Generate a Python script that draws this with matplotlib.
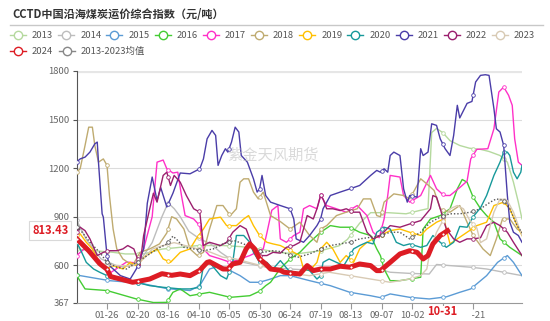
import numpy as np
import matplotlib
matplotlib.use('Agg')
import matplotlib.pyplot as plt
from matplotlib.lines import Line2D
from matplotlib.patches import Rectangle
import matplotlib.transforms as mtransforms

plt.rcParams['font.family'] = ['Noto Sans CJK SC', 'DejaVu Sans']

# day of year (0 = 01-01) and index value
days_2013 = [0, 15, 30, 40, 55, 70, 85, 100, 120, 135, 150, 165, 180, 200, 215, 222, 232, 241, 255, 270,
             282, 288, 291, 295, 300, 306, 314, 322, 331, 338, 347, 353, 358, 362, 365]
vals_2013 = [700, 690, 680, 670, 670, 700, 711, 722, 722, 715, 700, 680, 670, 690, 720, 760, 860, 925, 925, 918,
             940, 950, 1420, 1445, 1420, 1370, 1340, 1323, 1316, 1303, 1278, 1237, 1113, 990, 886]

days_2014 = [0, 8, 20, 35, 48, 55, 62, 70, 75, 80, 85, 92, 101, 110, 118, 126, 137, 149, 159, 175,
             191, 208, 224, 241, 257, 273, 289, 295, 306, 323, 336, 350, 365]
vals_2014 = [880, 760, 640, 590, 600, 660, 740, 900, 985, 950, 900, 810, 763, 732, 680, 639, 618, 598, 585, 577,
             570, 577, 598, 590, 557, 550, 546, 605, 598, 588, 577, 557, 536]

days_2015 = [0, 27, 52, 74, 93, 101, 109, 118, 126, 134, 142, 150, 159, 167, 175, 191, 208, 224, 241, 249,
             257, 273, 289, 303, 314, 323, 336, 345, 353, 358, 365]
vals_2015 = [540, 505, 490, 456, 444, 474, 577, 598, 567, 536, 495, 495, 515, 536, 536, 505, 474, 433, 412, 400,
             423, 402, 392, 405, 433, 454, 536, 618, 660, 618, 536]

days_2016 = [0, 7, 25, 49, 63, 74, 79, 85, 93, 109, 126, 142, 150, 155, 159, 167, 175, 183, 191, 200,
             208, 216, 224, 232, 241, 246, 249, 252, 257, 265, 273, 282, 284, 290, 298, 306, 312, 316, 320, 325,
             331, 336, 342, 347, 355, 365]
vals_2016 = [538, 454, 444, 392, 370, 371, 433, 454, 412, 433, 402, 412, 440, 474, 495, 580, 639, 680, 742, 804,
             845, 835, 835, 804, 784, 701, 660, 577, 505, 505, 515, 526, 824, 886, 907, 949, 1072, 1130, 1113, 1020,
             950, 907, 866, 763, 711, 660]

days_2017 = [0, 7, 19, 27, 41, 49, 55, 62, 66, 71, 74, 79, 83, 86, 89, 96, 101, 104, 109, 118,
             126, 134, 142, 153, 156, 160, 165, 167, 172, 178, 183, 186, 191, 197, 200, 205, 213, 221, 230, 238,
             243, 248, 252, 255, 257, 265, 268, 273, 282, 290, 295, 301, 306, 314, 320, 323, 328, 337, 342, 346,
             350, 354, 357, 359, 362, 365]
vals_2017 = [660, 705, 630, 550, 620, 615, 701, 900, 1237, 1250, 1196, 1170, 1175, 1031, 907, 886, 845, 701, 660, 639,
             618, 639, 660, 701, 800, 940, 969, 763, 742, 784, 804, 949, 969, 949, 1031, 969, 949, 928, 969, 907,
             804, 770, 886, 1031, 1155, 1145, 1031, 990, 1031, 1155, 1072, 1031, 1031, 1080, 1120, 1257, 1316, 1320, 1443, 1670,
             1701, 1650, 1588, 1381, 1237, 1217]

days_2018 = [0, 3, 7, 10, 13, 15, 18, 22, 25, 27, 30, 33, 38, 46, 52, 60, 68, 74, 78, 82,
             88, 93, 99, 104, 109, 115, 120, 126, 131, 134, 137, 141, 145, 149, 153, 159, 167, 175, 183, 191,
             197, 200, 205, 213, 221, 230, 235, 241, 246, 249, 252, 260, 268, 273, 282, 287, 293, 298, 306, 314,
             320, 325, 333, 339, 344, 349, 355, 361, 365]
vals_2018 = [1175, 1196, 1340, 1453, 1453, 1340, 1237, 1257, 1217, 1031, 824, 701, 639, 598, 680, 701, 732, 800, 900, 886,
             824, 701, 660, 680, 824, 969, 969, 907, 949, 1113, 1134, 1134, 1052, 1010, 1052, 907, 870, 824, 866, 784,
             742, 824, 845, 907, 928, 949, 1010, 1010, 907, 900, 990, 1041, 1031, 1010, 1134, 1103, 1062, 949, 928, 969,
             866, 784, 701, 660, 763, 886, 886, 824, 804]

days_2019 = [0, 3, 8, 13, 19, 25, 30, 38, 44, 49, 57, 66, 71, 77, 85, 93, 98, 104, 109, 118,
             123, 131, 137, 141, 145, 150, 156, 161, 167, 178, 183, 186, 191, 197, 200, 205, 210, 216, 221, 227,
             232, 238, 243, 249, 257, 265, 273, 282, 287, 295, 301, 306, 312, 320, 328, 336, 342, 350, 355, 361, 365]
vals_2019 = [785, 794, 742, 701, 618, 577, 598, 577, 618, 598, 660, 701, 639, 618, 680, 701, 763, 824, 886, 897,
             845, 845, 886, 907, 845, 784, 742, 732, 722, 680, 660, 577, 567, 618, 701, 742, 701, 618, 660, 618,
             701, 742, 763, 784, 814, 824, 804, 784, 824, 866, 886, 732, 763, 804, 845, 866, 969, 990, 949, 845, 784]

days_2020 = [0, 3, 8, 14, 19, 25, 33, 41, 49, 60, 71, 85, 93, 101, 104, 109, 118, 123, 128, 131,
             137, 142, 145, 150, 156, 161, 167, 175, 180, 186, 191, 197, 200, 202, 207, 213, 219, 224, 227, 232,
             238, 243, 246, 252, 257, 262, 268, 273, 282, 287, 292, 298, 303, 309, 314, 320, 325, 331, 336, 342,
             347, 350, 353, 355, 358, 361, 364, 365]
vals_2020 = [742, 701, 618, 577, 557, 536, 526, 515, 495, 474, 464, 454, 454, 464, 598, 618, 536, 515, 618, 784,
             784, 742, 680, 618, 618, 577, 629, 557, 536, 577, 567, 515, 536, 618, 639, 618, 598, 660, 701, 722,
             742, 732, 804, 835, 824, 742, 722, 732, 711, 722, 784, 742, 711, 742, 840, 835, 900, 955, 1031, 1155,
             1237, 1299, 1299, 1278, 1175, 1134, 1175, 1217]

days_2021 = [0, 3, 7, 11, 15, 17, 18, 21, 22, 25, 27, 36, 44, 49, 55, 58, 62, 66, 69, 74,
             79, 85, 93, 101, 104, 107, 111, 114, 116, 119, 122, 124, 127, 130, 133, 135, 140, 145, 148, 150,
             152, 155, 159, 167, 175, 178, 180, 186, 191, 197, 200, 202, 208, 216, 224, 232, 241, 246, 249, 252,
             255, 257, 260, 265, 268, 271, 273, 279, 282, 284, 288, 291, 295, 298, 302, 306, 309, 312, 314, 320,
             324, 327, 331, 335, 338, 340, 342, 344, 347, 350, 353, 355, 358, 362, 365]
vals_2021 = [1237, 1257, 1268, 1299, 1350, 1361, 1237, 918, 897, 660, 598, 536, 515, 577, 701, 983, 1145, 1000, 1080, 960,
             1045, 1170, 1165, 1196, 1257, 1381, 1433, 1402, 1217, 1278, 1320, 1299, 1361, 1453, 1423, 1278, 1237, 1134, 1052, 1072,
             1155, 1031, 990, 969, 949, 886, 763, 742, 784, 845, 886, 949, 1031, 1052, 1072, 1093, 1155, 1186, 1175, 1196,
             1175, 1278, 1299, 1278, 1072, 990, 1031, 1021, 1320, 1278, 1299, 1474, 1464, 1381, 1320, 1278, 1402, 1588, 1510, 1600,
             1612, 1732, 1773, 1777, 1773, 1670, 1567, 1443, 1423, 1340, 1031, 866, 804, 784, 742]

days_2022 = [0, 3, 7, 11, 17, 22, 27, 33, 38, 42, 47, 49, 52, 55, 60, 63, 66, 71, 74, 77,
             80, 85, 90, 96, 101, 104, 109, 118, 123, 128, 134, 139, 145, 150, 156, 161, 167, 172, 178, 183,
             186, 189, 194, 197, 200, 202, 205, 210, 216, 221, 227, 232, 238, 243, 249, 257, 265, 273, 282, 290,
             292, 295, 298, 303, 309, 314, 320, 325, 331, 336, 342, 347, 353, 358, 365]
vals_2022 = [804, 835, 814, 763, 660, 680, 690, 690, 701, 722, 701, 660, 598, 784, 949, 1045, 990, 1155, 1175, 1093,
             1155, 1113, 1031, 949, 928, 722, 742, 722, 742, 804, 845, 824, 701, 660, 660, 680, 675, 711, 722, 742,
             824, 907, 886, 949, 1031, 1010, 949, 949, 938, 949, 928, 928, 804, 763, 784, 845, 835, 855, 876, 949,
             1031, 1021, 949, 824, 763, 742, 763, 763, 770, 845, 866, 845, 804, 742, 660]

days_2023 = [0, 10, 20, 30, 45, 55, 62, 70, 80, 90, 100, 110, 120, 130, 140, 150, 160, 170, 180, 191,
             207, 224, 241, 257, 273, 282, 287, 290, 295, 301, 306, 312, 317, 322, 328, 331, 336, 342, 347, 353,
             358, 365]
vals_2023 = [770, 700, 610, 600, 595, 640, 700, 720, 740, 720, 700, 680, 650, 640, 620, 600, 580, 560, 545, 536,
             557, 536, 515, 495, 515, 536, 577, 701, 804, 886, 949, 969, 949, 880, 830, 740, 763, 928, 1010, 1000,
             928, 784]

days_2024 = [0, 10, 19, 25, 28, 36, 46, 50, 60, 70, 78, 85, 93, 101, 107, 109, 115, 120, 124, 128,
             134, 139, 142, 146, 150, 155, 159, 167, 170, 183, 189, 194, 200, 208, 216, 224, 232, 241, 246, 249,
             257, 265, 273, 279, 284, 288, 292, 298, 304]
vals_2024 = [765, 690, 610, 575, 530, 515, 495, 500, 515, 548, 538, 546, 536, 569, 618, 622, 598, 577, 577, 608,
             618, 701, 732, 701, 639, 608, 577, 569, 557, 546, 598, 567, 577, 577, 594, 588, 608, 598, 567, 567,
             618, 670, 690, 680, 639, 660, 732, 784, 813.43]

days_avg = [0, 4, 11, 19, 25, 33, 41, 49, 58, 66, 74, 79, 82, 88, 96, 104, 112, 120, 129, 137,
            145, 153, 161, 167, 175, 181, 191, 200, 208, 216, 224, 232, 241, 249, 257, 265, 273, 282, 290, 298,
            306, 314, 323, 331, 339, 344, 350, 355, 361, 365]
vals_avg = [835, 810, 742, 680, 618, 588, 577, 618, 660, 701, 732, 780, 760, 711, 701, 690, 701, 732, 753, 732,
            701, 680, 690, 685, 663, 649, 670, 701, 722, 732, 742, 763, 773, 784, 804, 804, 763, 804, 866, 897,
            918, 918, 928, 949, 990, 1010, 1000, 949, 845, 800]

years = ['2013', '2014', '2015', '2016', '2017', '2018', '2019', '2020', '2021', '2022', '2023', '2024']
colors = ['#b5d99e', '#bdbdbd', '#5b9bd5', '#44cc33', '#ff30c8', '#bfab70', '#ffc000',
          '#17999a', '#4a3da8', '#9b1f6e', '#d8cab4', '#dd1c24']
avg_label = '2013-2023均值'

xtick_days = [25, 50, 75, 100, 125, 150, 175, 200, 225, 250, 275, 300, 325]
xtick_labels = ['01-26', '02-20', '03-16', '04-10', '05-05', '05-30', '06-24', '07-19',
                '08-13', '09-07', '10-02', '', '11-21']
yticks = [367, 600, 900, 1200, 1500, 1800]
cursor_day = 303
cursor_label = '10-31'
cursor_value = 813.43
marker_days = list(range(0, 351, 25))

series = {
    '2013': (days_2013, vals_2013), '2014': (days_2014, vals_2014), '2015': (days_2015, vals_2015),
    '2016': (days_2016, vals_2016), '2017': (days_2017, vals_2017), '2018': (days_2018, vals_2018),
    '2019': (days_2019, vals_2019), '2020': (days_2020, vals_2020), '2021': (days_2021, vals_2021),
    '2022': (days_2022, vals_2022), '2023': (days_2023, vals_2023), '2024': (days_2024, vals_2024),
}

W, H = 550, 321
fig = plt.figure(figsize=(W / 100, H / 100), dpi=100)
fig.patch.set_facecolor('white')

ax = fig.add_axes([76.5 / W, 1 - 303 / H, (522 - 76.5) / W, (303 - 71) / H])
ax.set_xlim(0, 365)
ax.set_ylim(367, 1800)

# grid
for v in yticks[1:-1]:
    ax.axhline(v, color='#dcdcdc', lw=0.8, zorder=0)
ax.axhline(1800, color='#e6e6e6', lw=3, zorder=0)


def draw(days, vals, color, lw, zorder, ls='-', msize=2.6):
    ax.plot(days, vals, color=color, lw=lw, ls=ls, zorder=zorder, solid_joinstyle='round')
    md = [d for d in marker_days if d <= days[-1]]
    ax.plot(md, np.interp(md, days, vals), ls='none', marker='o', ms=msize,
            mfc='white', mec=color, mew=0.6, zorder=zorder + 0.1)


for i, y in enumerate(years[:-1]):
    d, v = series[y]
    draw(d, v, colors[i], 1.0, 2 + i * 0.2)
draw(days_avg, vals_avg, '#555555', 1.0, 5, ls=(0, (1, 1.4)))
draw(days_2024, vals_2024, colors[-1], 3.6, 6, msize=2.2)

# axes styling
for s in ['top', 'right']:
    ax.spines[s].set_visible(False)
ax.spines['left'].set_color('#555555')
ax.spines['bottom'].set_color('#999999')
ax.set_yticks(yticks)
ax.set_yticklabels([str(t) for t in yticks])
ax.set_xticks(xtick_days)
ax.set_xticklabels(xtick_labels)
ax.tick_params(axis='y', direction='out', length=3, width=0.8, color='#555555',
               labelsize=6.8, labelcolor='#666666', pad=2)
ax.tick_params(axis='x', direction='out', length=4, width=0.8, color='#999999',
               labelsize=6.8, labelcolor='#666666', pad=2)

# cursor labels
tr_y = mtransforms.blended_transform_factory(ax.transAxes, ax.transData)
ax.text(-0.018, cursor_value, f'{cursor_value:.2f}', transform=tr_y, ha='right', va='center',
        fontsize=8, fontweight='bold', color='#dd1c24', zorder=10, clip_on=False,
        bbox=dict(boxstyle='square,pad=0.25', fc='white', ec='#d9d9d9', lw=0.8))
# white label box on the x axis, hiding the neighbouring tick text
fig.add_artist(Rectangle((428 / W, 1 - 318 / H), 44 / W, 12 / H, transform=fig.transFigure,
                         fc='white', ec='none', zorder=11))
tr_x = mtransforms.blended_transform_factory(ax.transData, ax.transAxes)
cur = fig.text(0, 0, cursor_label, ha='center', va='center',
               fontsize=8, fontweight='bold', color='#dd1c24', zorder=12)
cur.set_transform(tr_x)
cur.set_position((cursor_day - 3, -0.035))

# watermark
fig.text(273 / W, 1 - 155 / H, '紫金天风期货', ha='center', va='center', fontsize=11,
         color='#bbbbbb', alpha=0.55, zorder=20)

# title and separator
fig.text(12 / W, 1 - 14 / H, 'CCTD中国沿海煤炭运价综合指数（元/吨）', ha='left', va='center',
         fontsize=8, fontweight='bold', color='#333333')
fig.add_artist(Line2D([10 / W, 543 / W], [1 - 25 / H, 1 - 25 / H], color='#c8c8c8', lw=1))

# legend
leg_items = [(y, colors[i]) for i, y in enumerate(years)] + [(avg_label, '#888888')]
for i, (lab, col) in enumerate(leg_items):
    if i < 11:
        cx, cy = 18 + 48.2 * i, 35
    else:
        cx, cy = 18 + 48.5 * (i - 11), 51
    fx, fy = cx / W, 1 - cy / H
    fig.add_artist(Line2D([(cx - 8) / W, (cx + 8) / W], [fy, fy], color=col, lw=1))
    fig.add_artist(Line2D([fx], [fy], marker='o', ms=6, mfc='white', mec=col, mew=1))
    fig.text((cx + 14) / W, fy, lab, ha='left', va='center', fontsize=6.8, color='#555555')

fig.savefig('out.png', dpi=100, facecolor='white')
